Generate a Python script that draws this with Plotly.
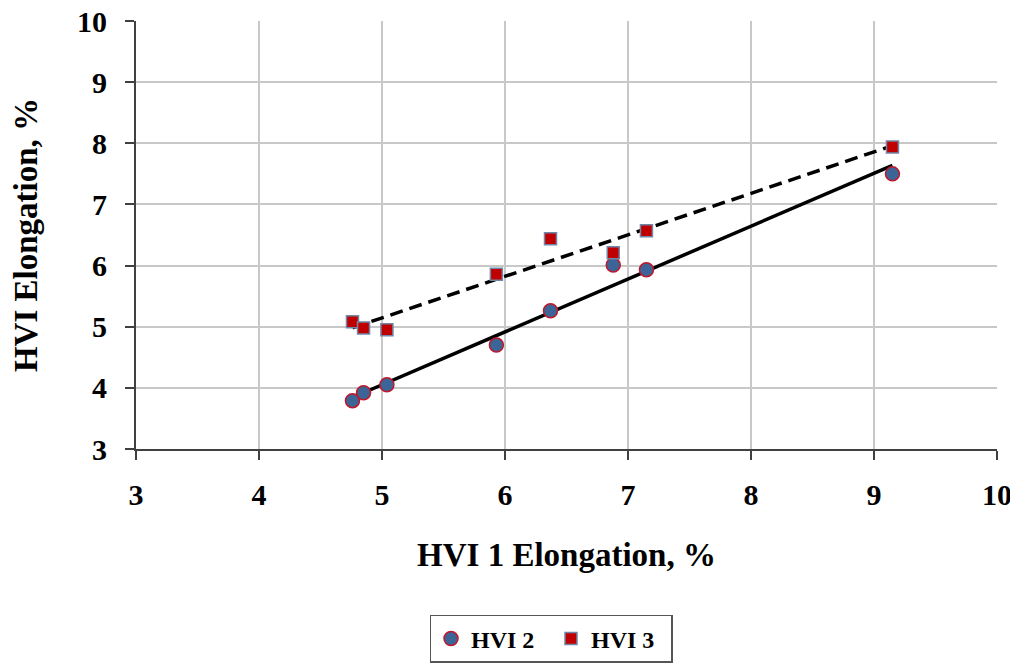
import numpy as np
import plotly.graph_objects as go

hvi1 = [4.76, 4.85, 5.04, 5.93, 6.37, 6.88, 7.15, 9.15]
hvi2 = [3.79, 3.92, 4.05, 4.70, 5.26, 6.01, 5.93, 7.50]
hvi3 = [5.08, 4.98, 4.95, 5.86, 6.44, 6.21, 6.57, 7.94]

x_ticks = [3, 4, 5, 6, 7, 8, 9, 10]
y_ticks = [3, 4, 5, 6, 7, 8, 9, 10]

font_family = "Liberation Serif, Times New Roman, serif"

xs = np.array(hvi1)
xr = np.array([xs.min(), xs.max()])
p2 = np.polyfit(xs, hvi2, 1)
p3 = np.polyfit(xs, hvi3, 1)

fig = go.Figure()
fig.add_trace(go.Scatter(x=xr, y=np.polyval(p3, xr), mode="lines",
                         line=dict(color="black", width=3.5, dash="13px,7px"),
                         showlegend=False, hoverinfo="skip"))
fig.add_trace(go.Scatter(x=xr, y=np.polyval(p2, xr), mode="lines",
                         line=dict(color="black", width=3.5),
                         showlegend=False, hoverinfo="skip"))
fig.add_trace(go.Scatter(x=hvi1, y=hvi2, mode="markers", name="HVI 2",
                         marker=dict(symbol="circle", size=14, color="#3c6496",
                                     line=dict(color="#c0182a", width=1.5))))
fig.add_trace(go.Scatter(x=hvi1, y=hvi3, mode="markers", name="HVI 3",
                         marker=dict(symbol="square", size=12, color="#c00000",
                                     line=dict(color="#6f87a8", width=1.5))))

axis_common = dict(
    range=[3, 10], showgrid=True, gridcolor="#c8c8c8", gridwidth=2,
    showline=True, linecolor="#404040", linewidth=2,
    ticks="outside", ticklen=9, tickcolor="#404040", tickwidth=1.5,
    tickfont=dict(size=30, family=font_family, weight="bold", color="black"),
    ticklabeloverflow="allow",
    zeroline=False, automargin=False,
)

# page body adds an 8px offset, so the figure is sized/margined to compensate
fig.update_layout(
    width=1010, height=656,
    margin=dict(l=128, r=21, t=13, b=215),
    paper_bgcolor="white", plot_bgcolor="white",
    font=dict(family=font_family, color="black"),
    legend=dict(orientation="h", x=0.482, xanchor="center",
                yref="container", y=0.0747, yanchor="top",
                bordercolor="#555555", borderwidth=1.5,
                font=dict(size=24, family=font_family, color="black", weight="bold"),
                itemwidth=30, entrywidth=75),
    xaxis=dict(axis_common, tickvals=x_ticks, ticktext=[str(v) for v in x_ticks],
               ticklabelstandoff=9,
               title=dict(text="<b>HVI 1 Elongation, %</b>",
                          font=dict(size=33, family=font_family), standoff=33)),
    yaxis=dict(axis_common, tickvals=y_ticks, ticktext=[str(v) for v in y_ticks],
               ticklabelstandoff=12,
               title=dict(text="<b>HVI Elongation, %</b>",
                          font=dict(size=33, family=font_family), standoff=32)),
)

fig.write_html("out.html")
